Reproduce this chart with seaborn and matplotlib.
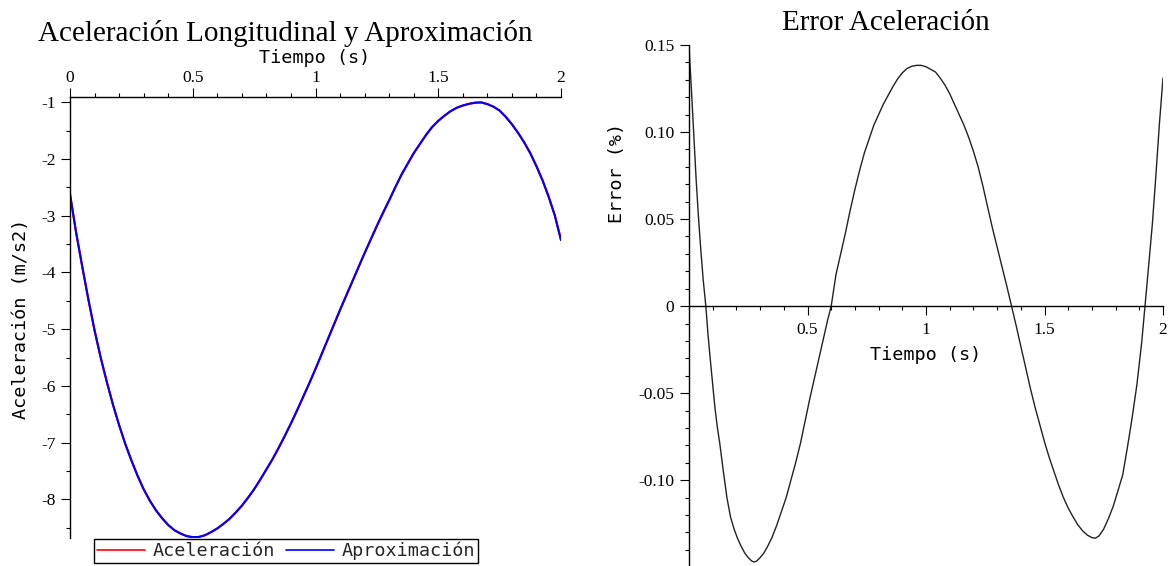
import matplotlib
matplotlib.use("Agg")
import matplotlib.pyplot as plt
import seaborn as sns
import pandas as pd
from matplotlib.ticker import FixedLocator, FixedFormatter, MultipleLocator

# ---------------- data ----------------
tiempo_acel = [0.000, 0.025, 0.050, 0.075, 0.100, 0.125, 0.150, 0.175, 0.200, 0.225,
               0.250, 0.275, 0.300, 0.325, 0.350, 0.375, 0.400, 0.425, 0.450, 0.475,
               0.500, 0.525, 0.550, 0.575, 0.600, 0.625, 0.650, 0.675, 0.700, 0.725,
               0.750, 0.775, 0.800, 0.825, 0.850, 0.875, 0.900, 0.925, 0.950, 0.975,
               1.000, 1.025, 1.050, 1.075, 1.100, 1.125, 1.150, 1.175, 1.200, 1.225,
               1.250, 1.275, 1.300, 1.325, 1.350, 1.375, 1.400, 1.425, 1.450, 1.475,
               1.500, 1.525, 1.550, 1.575, 1.600, 1.625, 1.650, 1.675, 1.700, 1.725,
               1.750, 1.775, 1.800, 1.825, 1.850, 1.875, 1.900, 1.925, 1.950, 1.975,
               2.000]
aceleracion = [-2.62, -3.30, -3.90, -4.48, -5.02, -5.50, -5.93, -6.33, -6.69, -7.02,
               -7.31, -7.58, -7.82, -8.02, -8.19, -8.33, -8.45, -8.54, -8.60, -8.645,
               -8.665, -8.66, -8.63, -8.575, -8.51, -8.43, -8.34, -8.23, -8.11, -7.97,
               -7.82, -7.65, -7.47, -7.29, -7.09, -6.88, -6.66, -6.43, -6.19, -5.95,
               -5.70, -5.44, -5.18, -4.92, -4.66, -4.41, -4.16, -3.91, -3.66, -3.42,
               -3.18, -2.95, -2.73, -2.50, -2.28, -2.09, -1.90, -1.74, -1.58, -1.44,
               -1.33, -1.24, -1.16, -1.10, -1.06, -1.03, -1.01, -1.005, -1.035, -1.08,
               -1.15, -1.26, -1.39, -1.54, -1.71, -1.90, -2.13, -2.38, -2.67, -3.00,
               -3.43]
aproximacion = [-2.62, -3.30, -3.90, -4.48, -5.02, -5.50, -5.93, -6.33, -6.69, -7.02,
                -7.31, -7.58, -7.82, -8.02, -8.19, -8.33, -8.45, -8.54, -8.60, -8.645,
                -8.665, -8.66, -8.63, -8.575, -8.51, -8.43, -8.34, -8.23, -8.11, -7.97,
                -7.82, -7.65, -7.47, -7.29, -7.09, -6.88, -6.66, -6.43, -6.19, -5.95,
                -5.70, -5.44, -5.18, -4.92, -4.66, -4.41, -4.16, -3.91, -3.66, -3.42,
                -3.18, -2.95, -2.73, -2.50, -2.28, -2.09, -1.90, -1.74, -1.58, -1.44,
                -1.33, -1.24, -1.16, -1.10, -1.06, -1.03, -1.01, -1.005, -1.035, -1.08,
                -1.15, -1.26, -1.39, -1.54, -1.71, -1.90, -2.13, -2.38, -2.67, -3.00,
                -3.43]

tiempo_err = [0.000, 0.010, 0.020, 0.030, 0.040, 0.050, 0.060, 0.071, 0.080, 0.090,
              0.100, 0.110, 0.120, 0.130, 0.145, 0.160, 0.175, 0.190, 0.205, 0.220,
              0.235, 0.250, 0.265, 0.275, 0.285, 0.300, 0.315, 0.330, 0.350, 0.370,
              0.390, 0.410, 0.430, 0.450, 0.470, 0.490, 0.510, 0.530, 0.550, 0.570,
              0.585, 0.600, 0.620, 0.640, 0.660, 0.680, 0.700, 0.720, 0.740, 0.760,
              0.780, 0.800, 0.820, 0.840, 0.860, 0.880, 0.900, 0.920, 0.940, 0.960,
              0.980, 1.000, 1.020, 1.040, 1.060, 1.080, 1.100, 1.120, 1.140, 1.160,
              1.180, 1.200, 1.220, 1.240, 1.260, 1.280, 1.300, 1.320, 1.340, 1.361,
              1.380, 1.400, 1.420, 1.440, 1.460, 1.480, 1.500, 1.520, 1.540, 1.560,
              1.580, 1.600, 1.620, 1.640, 1.660, 1.680, 1.700, 1.715, 1.730, 1.750,
              1.770, 1.790, 1.810, 1.830, 1.850, 1.870, 1.890, 1.910, 1.924, 1.940,
              1.955, 1.970, 1.985, 2.000]
error = [0.149, 0.125, 0.099, 0.073, 0.051, 0.032, 0.015, 0.0, -0.016, -0.031,
         -0.045, -0.059, -0.070, -0.079, -0.095, -0.110, -0.121, -0.128, -0.1335, -0.138,
         -0.1418, -0.1445, -0.1465, -0.147, -0.1465, -0.1445, -0.142, -0.1385, -0.133, -0.126,
         -0.118, -0.110, -0.100, -0.090, -0.079, -0.066, -0.053, -0.041, -0.029, -0.017,
         -0.008, 0.0, 0.018, 0.030, 0.042, 0.055, 0.067, 0.078, 0.088, 0.096,
         0.104, 0.110, 0.116, 0.121, 0.126, 0.1305, 0.134, 0.1365, 0.1378, 0.1383,
         0.1383, 0.1375, 0.136, 0.1345, 0.131, 0.127, 0.122, 0.116, 0.110, 0.104,
         0.097, 0.089, 0.080, 0.069, 0.057, 0.045, 0.034, 0.023, 0.012, 0.0,
         -0.011, -0.023, -0.035, -0.047, -0.058, -0.068, -0.078, -0.087, -0.095, -0.103,
         -0.110, -0.116, -0.121, -0.1255, -0.129, -0.1315, -0.133, -0.1333, -0.132, -0.128,
         -0.122, -0.115, -0.106, -0.097, -0.081, -0.064, -0.045, -0.021, 0.0, 0.024,
         0.047, 0.075, 0.105, 0.131]

series_names = ["Aceleración", "Aproximación"]
series_colors = ["red", "blue"]

left_xticks = [0, 0.5, 1, 1.5, 2]
left_xticklabels = ["0", "0.5", "1", "1.5", "2"]
left_yticks = [-1, -2, -3, -4, -5, -6, -7, -8]
left_yticklabels = ["-1", "-2", "-3", "-4", "-5", "-6", "-7", "-8"]
right_xticks = [0.5, 1, 1.5, 2]
right_xticklabels = ["0.5", "1", "1.5", "2"]
right_yticks = [-0.10, -0.05, 0, 0.05, 0.10, 0.15]
right_yticklabels = ["-0.10", "-0.05", "0", "0.05", "0.10", "0.15"]

title_left = "Aceleración Longitudinal y Aproximación"
title_right = "Error Aceleración"
xlabel = "Tiempo (s)"
ylabel_left = "Aceleración (m/s2)"
ylabel_right = "Error (%)"

# ---------------- style ----------------
sns.set_style("white")
plt.rcParams["font.family"] = ["DejaVu Sans"]

W, H = 1170, 566
fig = plt.figure(figsize=(W / 100, H / 100), dpi=100)

MONO = "DejaVu Sans Mono"
SERIF = "Liberation Serif"


def fx(px):
    return px / W


def fy(py):
    return 1 - py / H


# ---------------- left panel ----------------
L_x0, L_x1, L_y0, L_y1 = 70, 561, 97.3, 537.5
axL = fig.add_axes([fx(L_x0), fy(L_y1), fx(L_x1 - L_x0), (L_y1 - L_y0) / H])

df_left = pd.DataFrame({
    "t": tiempo_acel + tiempo_acel,
    "v": aceleracion + aproximacion,
    "serie": [series_names[0]] * len(tiempo_acel) + [series_names[1]] * len(tiempo_acel),
})
sns.lineplot(data=df_left, x="t", y="v", hue="serie", hue_order=series_names,
             palette=dict(zip(series_names, series_colors)), estimator=None,
             sort=False, linewidth=1.5, legend=False, ax=axL)

axL.set_xlim(0, 2)
axL.set_ylim(-8.67, -0.915)
for s in ["right", "bottom"]:
    axL.spines[s].set_visible(False)
for s in ["left", "top"]:
    axL.spines[s].set_color("black")
    axL.spines[s].set_linewidth(1.0)

axL.xaxis.tick_top()
axL.xaxis.set_major_locator(FixedLocator(left_xticks))
axL.xaxis.set_major_formatter(FixedFormatter(left_xticklabels))
axL.xaxis.set_minor_locator(MultipleLocator(0.1))
axL.yaxis.set_major_locator(FixedLocator(left_yticks))
axL.yaxis.set_major_formatter(FixedFormatter(left_yticklabels))
axL.yaxis.set_minor_locator(MultipleLocator(0.5))
axL.tick_params(axis="both", which="major", direction="out", length=6.5, width=0.8,
                color="black", labelsize=12.5, labelcolor="black")
axL.tick_params(axis="both", which="minor", direction="out", length=3, width=0.8, color="black")
axL.tick_params(axis="x", which="both", top=True, bottom=False, pad=1.5)
axL.tick_params(axis="y", which="both", left=True, right=False, pad=4)
for lab in axL.get_xticklabels() + axL.get_yticklabels():
    lab.set_fontfamily(SERIF)

axL.set_xlabel(xlabel, fontfamily=MONO, fontsize=13.3, color="black")
axL.xaxis.set_label_position("top")
axL.xaxis.set_label_coords((315 - L_x0) / (L_x1 - L_x0), (L_y1 - 58) / (L_y1 - L_y0))
axL.xaxis.label.set_va("center")
axL.set_ylabel(ylabel_left, fontfamily=MONO, fontsize=13.3, color="black")
axL.yaxis.set_label_coords((21 - L_x0) / (L_x1 - L_x0), (L_y1 - 319) / (L_y1 - L_y0))
axL.yaxis.label.set_va("center")

fig.text(fx(285), fy(41), title_left, ha="center", va="baseline",
         fontfamily=SERIF, fontsize=21, color="black")

handles = axL.get_lines()[:2]
leg = fig.legend(handles, series_names, loc="center", bbox_to_anchor=(fx(286), fy(551)),
                 ncol=2, frameon=True, fancybox=False, edgecolor="black",
                 prop={"family": MONO, "size": 13.3}, handlelength=2.6,
                 handletextpad=0.4, columnspacing=0.6, borderpad=0.15,
                 borderaxespad=0)
leg.get_frame().set_linewidth(1.0)
leg.get_frame().set_alpha(1)
for h in leg.legend_handles:
    h.set_linewidth(1.2)

# ---------------- right panel ----------------
R_x0, R_x1, R_y0, R_y1 = 689, 1163, 45, 566
axR = fig.add_axes([fx(R_x0), fy(R_y1), fx(R_x1 - R_x0), (R_y1 - R_y0) / H])

df_right = pd.DataFrame({"t": tiempo_err, "e": error})
sns.lineplot(data=df_right, x="t", y="e", color="#222222", linewidth=1.0,
             estimator=None, sort=False, ax=axR)

axR.set_xlim(0, 2)
axR.set_ylim(-0.1493, 0.15)
axR.spines["right"].set_visible(False)
axR.spines["top"].set_visible(False)
axR.spines["bottom"].set_position(("data", 0))
for s in ["left", "bottom"]:
    axR.spines[s].set_color("black")
    axR.spines[s].set_linewidth(1.0)

axR.xaxis.set_major_locator(FixedLocator(right_xticks))
axR.xaxis.set_major_formatter(FixedFormatter(right_xticklabels))
axR.xaxis.set_minor_locator(MultipleLocator(0.1))
axR.yaxis.set_major_locator(FixedLocator(right_yticks))
axR.yaxis.set_major_formatter(FixedFormatter(right_yticklabels))
axR.yaxis.set_minor_locator(MultipleLocator(0.01))
axR.tick_params(axis="both", which="major", direction="out", length=6.5, width=0.8,
                color="black", labelsize=12.5, labelcolor="black")
axR.tick_params(axis="both", which="minor", direction="out", length=3, width=0.8, color="black")
axR.tick_params(axis="x", which="both", bottom=True, top=False, pad=5)
axR.tick_params(axis="y", which="both", left=True, right=False, pad=4)
for lab in axR.get_xticklabels() + axR.get_yticklabels():
    lab.set_fontfamily(SERIF)

axR.set_xlabel(xlabel, fontfamily=MONO, fontsize=13.3, color="black")
axR.xaxis.set_label_coords((926 - R_x0) / (R_x1 - R_x0), (R_y1 - 355) / (R_y1 - R_y0))
axR.xaxis.label.set_va("center")
axR.set_ylabel(ylabel_right, fontfamily=MONO, fontsize=13.3, color="black")
axR.yaxis.set_label_coords((617 - R_x0) / (R_x1 - R_x0), (R_y1 - 173) / (R_y1 - R_y0))
axR.yaxis.label.set_va("center")

fig.text(fx(886), fy(29.5), title_right, ha="center", va="baseline",
         fontfamily=SERIF, fontsize=21, color="black")

fig.savefig("out.png", dpi=100, facecolor="white")
